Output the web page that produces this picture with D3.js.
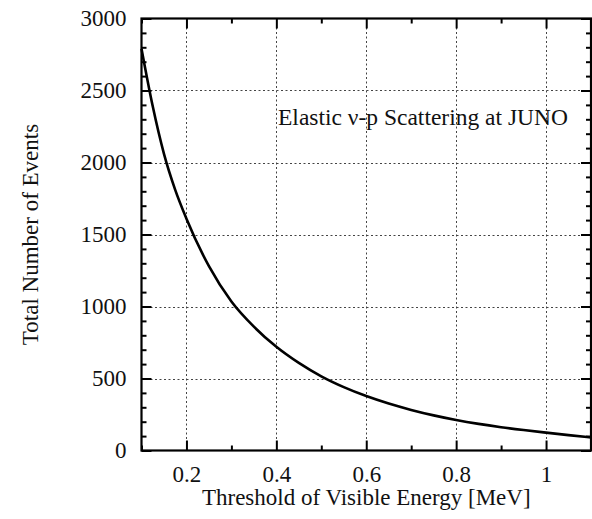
<!DOCTYPE html>
<html><head><meta charset="utf-8">
<script src="https://cdn.jsdelivr.net/npm/d3@7"></script>
<style>body{margin:0;background:#fff}svg{display:block}text{font-family:"Liberation Serif","Times New Roman",serif;fill:#111}</style>
</head><body>
<svg id="c" width="592" height="519"></svg>
<script>
const thresholdMeV = [0.10,0.125,0.15,0.175,0.20,0.25,0.30,0.35,0.40,0.45,0.50,0.55,0.60,0.65,0.70,0.75,0.80,0.85,0.90,0.95,1.00,1.05,1.10];
const totalEvents  = [2790,2390,2060,1810,1610,1280,1035,860,720,608,515,440,378,326,282,244,212,185,162,142,124,107,91];
const xTicks = [0.2,0.4,0.6,0.8,1];
const xTickLabels = ["0.2","0.4","0.6","0.8","1"];
const yTicks = [0,500,1000,1500,2000,2500,3000];
const xTitle = "Threshold of Visible Energy [MeV]";
const yTitle = "Total Number of Events";
const note = "Elastic \u03bd-p Scattering at JUNO";

const svg = d3.select("#c");
const L=141.5, R=591, T=18.5, B=450.5;
const x = d3.scaleLinear().domain([0.1,1.1]).range([L,R]);
const y = d3.scaleLinear().domain([0,3000]).range([B,T]);

// grid
const grid = svg.append("g").attr("stroke","#444").attr("stroke-width",1).attr("stroke-dasharray","2,2.5");
grid.selectAll("line.v").data(xTicks).join("line").attr("x1",d=>Math.round(x(d))+0.5).attr("x2",d=>Math.round(x(d))+0.5).attr("y1",T).attr("y2",B);
grid.selectAll("line.h").data(yTicks.slice(1,-1)).join("line").attr("y1",d=>Math.round(y(d))+0.5).attr("y2",d=>Math.round(y(d))+0.5).attr("x1",L).attr("x2",R);

// curve
svg.append("path").datum(thresholdMeV.map((t,i)=>[t,totalEvents[i]]))
  .attr("fill","none").attr("stroke","#000").attr("stroke-width",2.6)
  .attr("d", d3.line().x(d=>x(d[0])).y(d=>y(d[1])).curve(d3.curveMonotoneX));

// axes (inward ticks, mirrored)
const fs = 23;
const xMinor = d3.range(0.1,1.1001,0.1).filter(v=>!xTicks.some(t=>Math.abs(t-v)<1e-6));
const yMinor = d3.range(0,3001,100).filter(v=>v%500!==0);
function styleAxis(g){g.select(".domain").remove();g.selectAll("line").attr("stroke","#000").attr("stroke-width",2);}
svg.append("g").attr("transform",`translate(0,${B})`).call(d3.axisBottom(x).tickValues(xTicks).tickFormat((d,i)=>xTickLabels[i]).tickSizeInner(-10).tickPadding(15)).call(styleAxis)
  .selectAll("text").attr("font-size",fs).attr("fill","#111").attr("font-family","Liberation Serif");
svg.append("g").attr("transform",`translate(0,${B})`).call(d3.axisBottom(x).tickValues(xMinor).tickFormat("").tickSizeInner(-5)).call(styleAxis);
svg.append("g").attr("transform",`translate(0,${T})`).call(d3.axisTop(x).tickValues(xTicks).tickFormat("").tickSizeInner(-10)).call(styleAxis);
svg.append("g").attr("transform",`translate(0,${T})`).call(d3.axisTop(x).tickValues(xMinor).tickFormat("").tickSizeInner(-5)).call(styleAxis);
svg.append("g").attr("transform",`translate(${L},0)`).call(d3.axisLeft(y).tickValues(yTicks).tickFormat(d3.format("d")).tickSizeInner(-10).tickPadding(15)).call(styleAxis)
  .selectAll("text").attr("font-size",fs).attr("fill","#111").attr("font-family","Liberation Serif");
svg.append("g").attr("transform",`translate(${L},0)`).call(d3.axisLeft(y).tickValues(yMinor).tickFormat("").tickSizeInner(-5)).call(styleAxis);
svg.append("g").attr("transform",`translate(${R},0)`).call(d3.axisRight(y).tickValues(yTicks).tickFormat("").tickSizeInner(-10)).call(styleAxis);
svg.append("g").attr("transform",`translate(${R},0)`).call(d3.axisRight(y).tickValues(yMinor).tickFormat("").tickSizeInner(-5)).call(styleAxis);

// frame
svg.append("rect").attr("x",L).attr("y",T).attr("width",R-L).attr("height",B-T).attr("fill","none").attr("stroke","#000").attr("stroke-width",2.2);

// titles
svg.append("text").attr("x",(L+R)/2).attr("y",505).attr("text-anchor","middle").attr("font-size",fs).text(xTitle);
svg.append("text").attr("transform",`translate(38,${(T+B)/2}) rotate(-90)`).attr("text-anchor","middle").attr("font-size",fs).text(yTitle);
svg.append("text").attr("x",278).attr("y",125).attr("font-size",23.5).attr("textLength",290).attr("lengthAdjust","spacing").text(note);
</script>
</body></html>
